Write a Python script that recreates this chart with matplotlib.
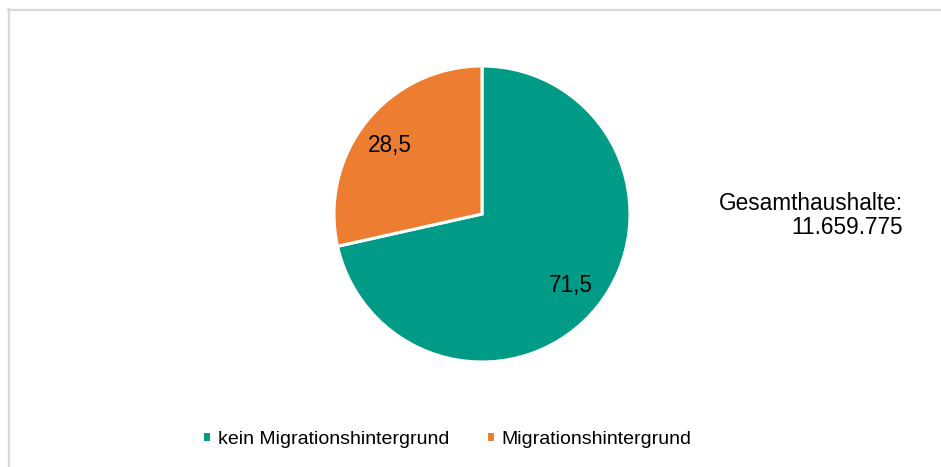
import matplotlib.pyplot as plt
from matplotlib.lines import Line2D

plt.rcParams['font.family'] = ['Liberation Sans', 'DejaVu Sans']

# Daten
kategorien = ['kein Migrationshintergrund', 'Migrationshintergrund']
anteile = [71.5, 28.5]
farben = ['#009B87', '#ED7D31']
gesamt_text = 'Gesamthaushalte:\n11.659.775'

W, H = 941, 467
fig = plt.figure(figsize=(W / 100, H / 100), dpi=100)

# Rahmen (nur oben und links sichtbar)
fig.add_artist(Line2D([8 / W, 1], [1 - 9.5 / H, 1 - 9.5 / H], color='#d9d9d9', lw=1.6))
fig.add_artist(Line2D([8.5 / W, 8.5 / W], [0, 1 - 9 / H], color='#d9d9d9', lw=1.6))

# Kreisdiagramm: Mitte (482, 214) px, Radius 148 px
cx, cy, r = 482, 214, 148
ax = fig.add_axes([(cx - r) / W, (H - cy - r) / H, 2 * r / W, 2 * r / H])
wedges, texts, autotexts = ax.pie(
    anteile, colors=farben, startangle=90, counterclock=False,
    autopct=lambda p: f'{p:.1f}'.replace('.', ','), pctdistance=0.77,
    wedgeprops=dict(edgecolor='white', linewidth=2.2),
    textprops=dict(fontsize=16.3, color='black'))
ax.set_xlim(-1, 1)
ax.set_ylim(-1, 1)
ax.set_aspect('equal')
ax.axis('off')
autotexts[1].set_position((-0.62, 0.46))

fig.text(903 / W, 1 - 215.5 / H, gesamt_text, ha='right', va='center',
         fontsize=16.3, linespacing=1.1)

fig.legend(wedges, kategorien, loc='center', bbox_to_anchor=(447 / W, 28 / H),
           ncol=2, frameon=False, fontsize=14, handlelength=0.45, handleheight=0.5,
           handletextpad=0.35, columnspacing=1.9)

fig.savefig('out.png', dpi=100)
